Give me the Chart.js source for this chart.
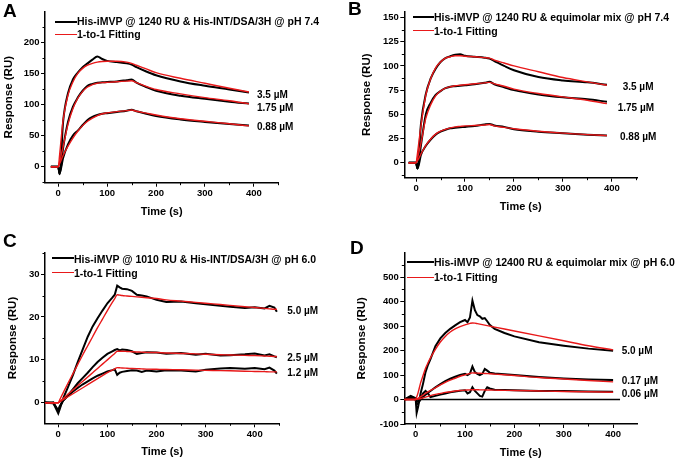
<!DOCTYPE html>
<html>
<head>
<meta charset="utf-8">
<script src="https://cdn.jsdelivr.net/npm/chart.js@4.4.0/dist/chart.umd.min.js"></script>
<style>
  body { margin: 0; background: #fff; }
  #page { position: relative; width: 685px; height: 461px; overflow: hidden; background: #fff; }
  canvas { position: absolute; }
  .t { position: absolute; font-family: "Liberation Sans", Arial, sans-serif; font-weight: bold; line-height: 1; white-space: nowrap; color: #000; }
  .big { font-size: 19px; }
  .leg { font-size: 10.5px; }
  .conc { font-size: 10px; }
  .ln { position: absolute; }
</style>
</head>
<body>
<div id="page">
  <canvas id="chartA" width="342" height="230" style="left:0;top:0"></canvas>
  <canvas id="chartB" width="340" height="230" style="left:345px;top:0"></canvas>
  <canvas id="chartC" width="342" height="231" style="left:0;top:230px"></canvas>
  <canvas id="chartD" width="340" height="231" style="left:345px;top:230px"></canvas>

  <div class="t big" style="left:3px;top:1px">A</div>
  <div class="t big" style="left:348px;top:-1px">B</div>
  <div class="t big" style="left:3px;top:231px">C</div>
  <div class="t big" style="left:350px;top:238px">D</div>

  <div class="ln" style="left:55px;top:20.7px;width:22px;height:2px;background:#000"></div>
  <div class="t leg" style="left:77px;top:16px">His-iMVP @ 1240 RU &amp; His-INT/DSA/3H @ pH 7.4</div>
  <div class="ln" style="left:55px;top:33.6px;width:22px;height:1.4px;background:#e8191a"></div>
  <div class="t leg" style="left:77px;top:29.3px">1-to-1 Fitting</div>

  <div class="ln" style="left:413px;top:15.7px;width:21px;height:2px;background:#000"></div>
  <div class="t leg" style="left:434px;top:11.9px">His-iMVP @ 1240 RU &amp; equimolar mix @ pH 7.4</div>
  <div class="ln" style="left:413px;top:30px;width:21px;height:1.4px;background:#e8191a"></div>
  <div class="t leg" style="left:434px;top:25.9px">1-to-1 Fitting</div>

  <div class="ln" style="left:52px;top:257.3px;width:22px;height:2px;background:#000"></div>
  <div class="t leg" style="left:74px;top:253.6px">His-iMVP @ 1010 RU &amp; His-INT/DSA/3H @ pH 6.0</div>
  <div class="ln" style="left:52px;top:271.6px;width:22px;height:1.4px;background:#e8191a"></div>
  <div class="t leg" style="left:74px;top:267.6px">1-to-1 Fitting</div>

  <div class="ln" style="left:407px;top:261.3px;width:27px;height:2px;background:#000"></div>
  <div class="t leg" style="left:434px;top:256.9px">His-iMVP @ 12400 RU &amp; equimolar mix @ pH 6.0</div>
  <div class="ln" style="left:407px;top:276.6px;width:27px;height:1.4px;background:#e8191a"></div>
  <div class="t leg" style="left:434px;top:271.9px">1-to-1 Fitting</div>

  <div class="t conc" style="left:257px;top:90.2px">3.5 µM</div>
  <div class="t conc" style="left:257px;top:102.7px">1.75 µM</div>
  <div class="t conc" style="left:257px;top:122px">0.88 µM</div>

  <div class="t conc" style="left:622.7px;top:82px">3.5 µM</div>
  <div class="t conc" style="left:617.7px;top:103px">1.75 µM</div>
  <div class="t conc" style="left:620px;top:132px">0.88 µM</div>

  <div class="t conc" style="left:287.3px;top:306px">5.0 µM</div>
  <div class="t conc" style="left:287.3px;top:353px">2.5 µM</div>
  <div class="t conc" style="left:287.3px;top:367.7px">1.2 µM</div>

  <div class="t conc" style="left:621.7px;top:346px">5.0 µM</div>
  <div class="t conc" style="left:621.7px;top:376px">0.17 µM</div>
  <div class="t conc" style="left:621.7px;top:389.4px">0.06 µM</div>
</div>

<script>
// ---- panel A : His-iMVP @ 1240 RU & His-INT/DSA/3H, pH 7.4
const timeA = [-15, 0, 3, 10, 20, 30, 40, 50, 60, 70, 80, 90, 100, 120, 140, 150, 160, 180, 200, 250, 300, 350, 390];
const a35Data = [0, 0, -12, 72, 118, 140, 151, 160, 166, 172, 177, 173, 170, 168, 166, 164, 160, 153, 147, 137, 130, 124, 119];
const a35Fit = [0, 0, 20, 75, 115, 136, 150, 158, 163, 166, 168, 169, 169.5, 169.5, 168, 166, 163, 157, 151, 142, 134, 126, 120];
const a175Data = [0, 0, -12, 30, 72, 96, 111, 122, 130, 133, 135, 135.5, 136, 137, 139, 140, 135, 128, 122, 114, 109, 104.5, 101.5];
const a175Fit = [0, 0, 8, 32, 68, 93, 110, 121, 128, 132, 134, 135, 135.5, 136.5, 137.5, 138, 135, 129, 124, 117, 111, 106, 101];
const a088Data = [0, 0, -10, 14, 36, 50, 58, 67, 75, 80, 83, 85, 86, 88, 90, 91.5, 89, 85, 81.5, 76, 72, 68.5, 66];
const a088Fit = [0, 0, 5, 18, 33, 46, 57, 66, 73, 78, 82, 85, 86.5, 88.5, 90, 91, 89, 86, 83, 77, 73, 69, 65.5];
const xTicksA = [0, 100, 200, 300, 400];
const yTicksA = [0, 50, 100, 150, 200];

// ---- panel B : His-iMVP @ 1240 RU & equimolar mix, pH 7.4
const timeB = [-15, 0, 3, 10, 20, 30, 40, 50, 60, 70, 80, 90, 100, 120, 140, 150, 160, 180, 200, 250, 300, 350, 390];
const b35Data = [0, 0, -6, 40, 71, 87, 97, 104, 108, 110, 111.5, 112, 110.5, 109.5, 108.5, 107.5, 105, 100, 95.5, 88.5, 85, 83, 80.5];
const b35Fit = [0, 0, 10, 38, 70, 87, 98, 104, 108, 109.5, 110.5, 110.5, 110, 109.5, 108.5, 108, 106, 103, 100, 94, 88, 83.5, 80];
const b175Data = [0, 0, -6, 18, 50, 62, 70, 74, 77, 78.5, 79, 79.5, 80, 81, 82.5, 83.5, 81, 78, 75, 70.5, 67.5, 65.5, 63];
const b175Fit = [0, 0, 5, 20, 46, 60, 69, 74, 77, 78.5, 79.5, 80, 80.5, 81.5, 82.5, 83, 81.5, 79, 76, 71.5, 68, 64.5, 61];
const b088Data = [0, 0, -6, 8, 17.5, 24, 29, 32, 34, 35.5, 36, 36.5, 37, 38, 39.5, 40, 38.5, 37, 34.5, 32, 30.5, 29, 28];
const b088Fit = [0, 0, 2, 9, 18, 24.5, 29.5, 32.5, 34.5, 36, 37, 37.5, 38, 38.5, 39, 39.5, 38, 36.5, 35, 32.5, 30.5, 29, 28];
const xTicksB = [0, 100, 200, 300, 400];
const yTicksB = [0, 25, 50, 75, 100, 125, 150];

// ---- panel C : His-iMVP @ 1010 RU & His-INT/DSA/3H, pH 6.0
const timeC = [-27, -10, 0, 3, 10, 20, 30, 40, 50, 60, 70, 80, 90, 100, 110, 115, 120, 125, 130, 140, 150, 160, 170, 180, 200, 220, 250, 280, 300, 330, 350, 380, 400, 420, 430, 440, 445];
const c50Data = [0.1, -0.1, -2.5, -1.5, 1, 3.7, 6.5, 9.6, 12.5, 15.4, 17.8, 19.7, 21.5, 23.2, 24.5, 25.2, 27.3, 26.9, 26.6, 26.5, 26.1, 25.2, 25.0, 24.8, 24.0, 23.5, 23.6, 23.2, 23.0, 22.6, 22.4, 22.1, 22.3, 22.0, 22.6, 22.2, 21.2];
const c50Fit = [0, 0, 0, 0.7, 2.3, 4.6, 6.8, 9.0, 11.2, 13.3, 15.4, 17.5, 19.5, 21.5, 23.4, 24.3, 25.2, 25.1, 25.0, 24.9, 24.8, 24.7, 24.6, 24.5, 24.3, 24.0, 23.7, 23.4, 23.2, 22.9, 22.7, 22.4, 22.2, 22.0, 21.9, 21.8, 21.8];
const c25Data = [0, 0.1, -2.0, -1.0, 0.5, 1.8, 3.2, 4.6, 5.8, 7.0, 8.3, 9.5, 10.5, 11.4, 12.0, 12.3, 12.5, 12.2, 12.4, 12.3, 12.0, 11.4, 11.6, 11.8, 11.7, 11.4, 11.6, 11.2, 11.4, 11.0, 11.1, 11.3, 11.5, 11.0, 11.3, 10.8, 10.6];
const c25Fit = [0, 0, 0, 0.3, 1.0, 2.0, 3.0, 4.0, 5.0, 6.0, 7.0, 8.0, 9.0, 10.0, 11.0, 11.5, 12.0, 12.0, 12.0, 11.95, 11.9, 11.85, 11.8, 11.75, 11.7, 11.6, 11.5, 11.4, 11.3, 11.2, 11.15, 11.05, 11.0, 10.9, 10.85, 10.8, 10.8];
const c12Data = [0, -0.1, -1.8, -0.8, 0.5, 1.6, 2.6, 3.5, 4.3, 5.0, 5.7, 6.3, 6.8, 7.3, 7.6, 7.8, 6.5, 7.0, 7.2, 7.4, 7.6, 7.5, 7.2, 7.5, 7.3, 7.6, 7.5, 7.3, 7.7, 8.0, 8.1, 7.9, 8.1, 7.8, 8.2, 7.5, 6.8];
const c12Fit = [0, 0, 0, 0.2, 0.7, 1.4, 2.1, 2.8, 3.5, 4.2, 4.9, 5.6, 6.3, 7.0, 7.6, 7.9, 8.2, 8.15, 8.1, 8.05, 8.0, 7.95, 7.9, 7.85, 7.8, 7.75, 7.7, 7.6, 7.55, 7.5, 7.45, 7.35, 7.3, 7.25, 7.2, 7.2, 7.2];
const xTicksC = [0, 100, 200, 300, 400];
const yTicksC = [0, 10, 20, 30];

// ---- panel D : His-iMVP @ 12400 RU & equimolar mix, pH 6.0
const timeD = [-23, -10, 0, 2, 5, 10, 15, 20, 25, 30, 40, 50, 60, 70, 80, 90, 100, 105, 110, 115, 120, 125, 130, 135, 140, 145, 150, 160, 180, 200, 250, 300, 350, 400];
const d50Data = [0, 10, 5, -55, -30, 25, 65, 112, 142, 165, 218, 250, 272, 289, 303, 316, 325, 316, 335, 404, 365, 345, 340, 330, 333, 320, 305, 289, 272, 258, 234, 220, 208, 199];
const d50Fit = [0, 0, 0, 10, 28, 68, 98, 128, 150, 170, 205, 235, 258, 276, 289, 298, 305, 308, 311, 313, 312, 310, 308, 306, 304, 302, 300, 296, 288, 280, 260, 240, 220, 203];
const d017Data = [0, 5, 0, -20, -15, 0, 10, 20, 28, 35, 50, 63, 75, 85, 93, 100, 105, 100, 106, 135, 112, 105, 100, 105, 125, 118, 110, 106, 103, 100, 92, 86, 82, 80];
const d017Fit = [0, 0, 0, 2, 5, 12, 18, 25, 31, 37, 48, 60, 70, 79, 87, 95, 101, 104, 107, 109, 108.5, 108, 107.5, 107, 106.5, 106, 105.5, 104, 101, 98, 90, 84, 78, 72];
const d006Data = [0, 15, 5, -10, -5, 5, 25, 35, 25, 10, 15, 20, 25, 30, 33, 36, 38, 25, 30, 50, 35, 25, 15, 12, 35, 50, 45, 40, 39, 38, 35, 35, 33, 32];
const d006Fit = [0, 0, 0, 1, 2, 4, 7, 10, 13, 16, 21, 25, 29, 32, 35, 37, 38.5, 39, 39.5, 40, 40, 39.8, 39.6, 39.4, 39.2, 39, 38.8, 38.4, 37.6, 37, 35, 33, 31.5, 30];
const zeroT = [-23, 414];
const zeroY = [0, 0];
const xTicksD = [0, 100, 200, 300, 400];
const yTicksD = [-100, 0, 100, 200, 300, 400, 500];

const FONT = "'Liberation Sans', Arial, sans-serif";
const RED = '#e8191a';

function pts(t, v) {
    return t.map((x, i) => ({ x: x, y: v[i] }));
}

// small minor ticks half way between the major ones
const minorTicks = {
    id: 'minorTicks',
    afterDraw(chart) {
        const ctx = chart.ctx;
        const area = chart.chartArea;
        ctx.save();
        ctx.strokeStyle = '#000';
        ctx.lineWidth = 1;
        ['x', 'y'].forEach(id => {
            const s = chart.scales[id];
            const maj = s.ticks.map(t => t.value);
            const step = maj[1] - maj[0];
            for (let v = maj[0] - step / 2; v <= s.max + 0.01; v += step) {
                if (v < s.min) continue;
                const p = s.getPixelForValue(v);
                ctx.beginPath();
                if (id === 'x') {
                    ctx.moveTo(Math.round(p) + 0.5, area.bottom);
                    ctx.lineTo(Math.round(p) + 0.5, area.bottom + 2.5);
                } else {
                    ctx.moveTo(area.left, Math.round(p) + 0.5);
                    ctx.lineTo(area.left - 2.5, Math.round(p) + 0.5);
                }
                ctx.stroke();
            }
        });
        ctx.restore();
    }
};

function makePanel(id, p) {
    const datasets = [];
    p.series.forEach(s => {
        datasets.push({
            data: pts(p.time, s.fit), borderColor: RED, borderWidth: 1.4,
            pointRadius: 0, cubicInterpolationMode: 'monotone', order: 0
        });
    });
    p.series.forEach(s => {
        datasets.push({
            data: pts(p.time, s.data), borderColor: '#000', borderWidth: 2,
            pointRadius: 0, tension: p.smooth ? 0.3 : 0,
            cubicInterpolationMode: p.smooth ? 'monotone' : 'default', order: 1
        });
    });
    if (p.zero) {
        datasets.push({
            data: pts(p.zero[0], p.zero[1]), borderColor: '#000', borderWidth: 1.5,
            pointRadius: 0, order: 1
        });
    }
    const canvas = document.getElementById(id);
    const W = canvas.width, H = canvas.height;
    const tickFont = { family: FONT, weight: 'bold', size: 9.5 };
    new Chart(canvas, {
        type: 'line',
        data: { datasets: datasets },
        plugins: [minorTicks],
        options: {
            responsive: false,
            animation: false,
            events: [],
            layout: { padding: { left: 0, top: p.area.top, right: W - p.area.right, bottom: 0 } },
            plugins: { legend: { display: false }, tooltip: { enabled: false } },
            scales: {
                x: {
                    type: 'linear', min: p.xMin, max: p.xMax,
                    afterBuildTicks: s => { s.ticks = p.xTicks.map(v => ({ value: v })); },
                    afterFit: s => { s.height = H - p.area.bottom; },
                    border: { display: true, color: '#000', width: 1.5 },
                    grid: { drawOnChartArea: false, drawTicks: true, tickLength: 4, color: '#000' },
                    ticks: { font: tickFont, color: '#000', padding: 1, maxRotation: 0, autoSkip: false },
                    title: { display: true, text: 'Time (s)', color: '#000', padding: p.xTitlePad,
                             font: { family: FONT, weight: 'bold', size: 11 } }
                },
                y: {
                    type: 'linear', min: p.yMin, max: p.yMax,
                    afterBuildTicks: s => { s.ticks = p.yTicks.map(v => ({ value: v })); },
                    afterFit: s => { s.width = p.area.left; },
                    border: { display: true, color: '#000', width: 1.5 },
                    grid: { drawOnChartArea: false, drawTicks: true, tickLength: 4, color: '#000' },
                    ticks: { font: tickFont, color: '#000', padding: 1.5, autoSkip: false },
                    title: { display: true, text: 'Response (RU)', color: '#000', padding: p.yTitlePad,
                             font: { family: FONT, weight: 'bold', size: 11.5 } }
                }
            }
        }
    });
}

makePanel('chartA', {
    time: timeA, smooth: true,
    series: [{ data: a35Data, fit: a35Fit }, { data: a175Data, fit: a175Fit }, { data: a088Data, fit: a088Fit }],
    xMin: -27, xMax: 450, yMin: -25.7, yMax: 249,
    xTicks: xTicksA, yTicks: yTicksA,
    area: { left: 45, top: 11.7, right: 278.3, bottom: 182.7 },
    xTitlePad: 11.7, yTitlePad: 2
});

makePanel('chartB', {
    time: timeB, smooth: true,
    series: [{ data: b35Data, fit: b35Fit }, { data: b175Data, fit: b175Fit }, { data: b088Data, fit: b088Fit }],
    xMin: -24, xMax: 452, yMin: -15.5, yMax: 156,
    xTicks: xTicksB, yTicks: yTicksB,
    area: { left: 59.3, top: 11.7, right: 292.3, bottom: 177.7 },
    xTitlePad: 16.7, yTitlePad: 15
});

makePanel('chartC', {
    time: timeC, smooth: false,
    series: [{ data: c50Data, fit: c50Fit }, { data: c25Data, fit: c25Fit }, { data: c12Data, fit: c12Fit }],
    xMin: -27, xMax: 450, yMin: -4.8, yMax: 35,
    xTicks: xTicksC, yTicks: yTicksC,
    area: { left: 45, top: 22.7, right: 279.3, bottom: 193.3 },
    xTitlePad: 2.7, yTitlePad: 6
});

makePanel('chartD', {
    time: timeD, smooth: false,
    series: [{ data: d50Data, fit: d50Fit }, { data: d017Data, fit: d017Fit }, { data: d006Data, fit: d006Fit }],
    zero: [zeroT, zeroY],
    xMin: -23, xMax: 449, yMin: -100, yMax: 600,
    xTicks: xTicksD, yTicks: yTicksD,
    area: { left: 59.3, top: 22.7, right: 292.3, bottom: 194 },
    xTitlePad: 1.7, yTitlePad: 10
});
</script>
</body>
</html>
